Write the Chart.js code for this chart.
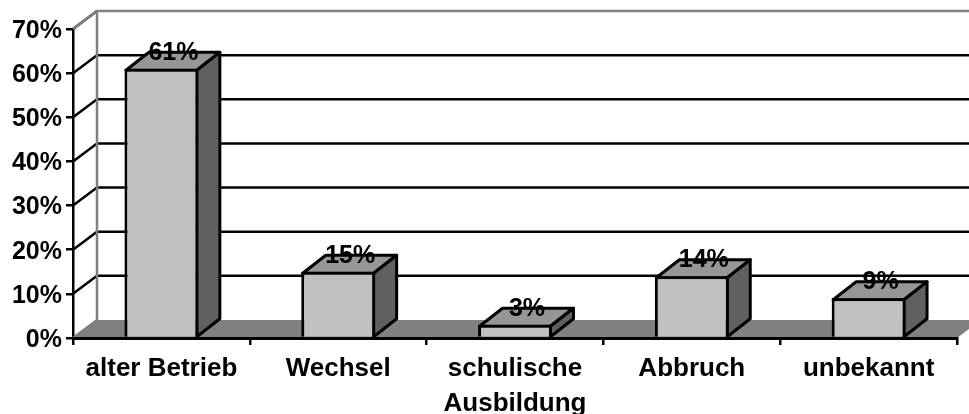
<!DOCTYPE html>
<html>
<head>
<meta charset="utf-8">
<title>Verbleib</title>
<script src="https://cdn.jsdelivr.net/npm/chart.js@4"></script>
<style>
  html, body { margin: 0; padding: 0; background: #fff; overflow: hidden; }
  canvas { display: block; }
</style>
</head>
<body>
<canvas id="chart" width="969" height="414"></canvas>
<script>
// Data
const categories = ['alter Betrieb', 'Wechsel', ['schulische', 'Ausbildung'], 'Abbruch', 'unbekannt'];
const values = [61, 15, 3, 14, 9];
const yMax = 70;
const yStep = 10;

// Look of the fake 3D box
const depthX = 24;
const depthY = 18;
const barDepthX = 23;
const barLine = 3;
const lineBlack = '#000000';
const wallGrey = '#808080';
const floorGrey = '#808080';
const faceFront = '#c0c0c0';
const faceTop = '#969696';
const faceSide = '#606060';
const fontFamily = '"Liberation Sans", Arial, sans-serif';
const labelFont = 'bold 25px ' + fontFamily;

function poly(ctx, pts, fill, stroke, width) {
    ctx.beginPath();
    pts.forEach((p, i) => i ? ctx.lineTo(p[0], p[1]) : ctx.moveTo(p[0], p[1]));
    ctx.closePath();
    if (fill) { ctx.fillStyle = fill; ctx.fill(); }
    if (stroke) { ctx.strokeStyle = stroke; ctx.lineWidth = width; ctx.lineJoin = 'round'; ctx.stroke(); }
}

// Back wall, floor and gridlines behind the bars
const wallsPlugin = {
    id: 'walls',
    beforeDatasetsDraw(chart) {
        const { ctx, scales: { x, y }, width } = chart;
        const left = x.left, right = x.right;
        const base = y.getPixelForValue(0);
        const far = width + depthX;
        ctx.save();

        poly(ctx, [[left, base], [left + depthX, base - depthY], [right + depthX, base - depthY], [right, base]], floorGrey);

        ctx.strokeStyle = lineBlack;
        ctx.lineWidth = 2.5;
        y.ticks.forEach(t => {
            if (t.value === 0) return;
            const py = y.getPixelForValue(t.value);
            ctx.beginPath();
            ctx.moveTo(left, py);
            ctx.lineTo(left + depthX, py - depthY);
            if (t.value < yMax) ctx.lineTo(far, py - depthY);
            ctx.stroke();
        });

        ctx.strokeStyle = wallGrey;
        ctx.lineWidth = 2.5;
        ctx.beginPath();
        ctx.moveTo(left, y.getPixelForValue(yMax));
        ctx.lineTo(left + depthX, y.getPixelForValue(yMax) - depthY);
        ctx.lineTo(far, y.getPixelForValue(yMax) - depthY);
        ctx.moveTo(left + depthX, y.getPixelForValue(yMax) - depthY);
        ctx.lineTo(left + depthX, base - depthY);
        ctx.moveTo(left, base);
        ctx.lineTo(left + depthX, base - depthY);
        ctx.stroke();

        // side and top faces of each bar, taken from the bar elements
        chart.getDatasetMeta(0).data.forEach(bar => {
            const p = bar.getProps(['x', 'y', 'base', 'width'], true);
            const inset = barLine / 2;
            const l = p.x - p.width / 2 + inset, r = p.x + p.width / 2 - inset;
            const t = p.y + inset, b = p.base;
            poly(ctx, [[l, t], [l + barDepthX, t - depthY], [r + barDepthX, t - depthY], [r, t]], faceTop, lineBlack, barLine);
            poly(ctx, [[r, t], [r + barDepthX, t - depthY], [r + barDepthX, b - depthY], [r, b]], faceSide, lineBlack, barLine);
        });
        ctx.restore();
    }
};

// Percent labels sit on the top face
const valueLabelPlugin = {
    id: 'valueLabels',
    afterDatasetsDraw(chart) {
        const { ctx } = chart;
        ctx.save();
        ctx.font = labelFont;
        ctx.fillStyle = lineBlack;
        ctx.textAlign = 'center';
        ctx.textBaseline = 'middle';
        chart.getDatasetMeta(0).data.forEach((bar, i) => {
            ctx.fillText(values[i] + '%', bar.x + depthX / 2, bar.y - 16);
        });
        ctx.restore();
    }
};

new Chart(document.getElementById('chart'), {
    type: 'bar',
    data: {
        labels: categories,
        datasets: [{
            data: values,
            backgroundColor: faceFront,
            borderColor: lineBlack,
            borderWidth: barLine,
            borderSkipped: 'bottom',
            barPercentage: 0.418,
            categoryPercentage: 1
        }]
    },
    options: {
        responsive: false,
        animation: false,
        layout: { padding: { top: 29, right: 12, left: 0, bottom: 0 } },
        plugins: { legend: { display: false }, tooltip: { enabled: false } },
        scales: {
            x: {
                afterFit(scale) { scale.height = 76; },
                grid: { drawOnChartArea: false, color: lineBlack, lineWidth: 2.5, tickLength: 7 },
                border: { color: lineBlack, width: 3, z: 1 },
                ticks: {
                    color: lineBlack,
                    font: { family: fontFamily, size: 26, weight: 'bold', lineHeight: 1.35 },
                    padding: 6,
                    autoSkip: false,
                    maxRotation: 0
                }
            },
            y: {
                min: 0,
                max: yMax,
                afterFit(scale) { scale.width = 73; },
                grid: { drawOnChartArea: false, color: lineBlack, lineWidth: 2.5, tickLength: 7 },
                border: { color: lineBlack, width: 2.5 },
                ticks: {
                    stepSize: yStep,
                    color: lineBlack,
                    font: { family: fontFamily, size: 25, weight: 'bold' },
                    padding: 4,
                    labelOffset: 2,
                    callback: v => v + '%'
                }
            }
        }
    },
    plugins: [wallsPlugin, valueLabelPlugin]
});
</script>
</body>
</html>
